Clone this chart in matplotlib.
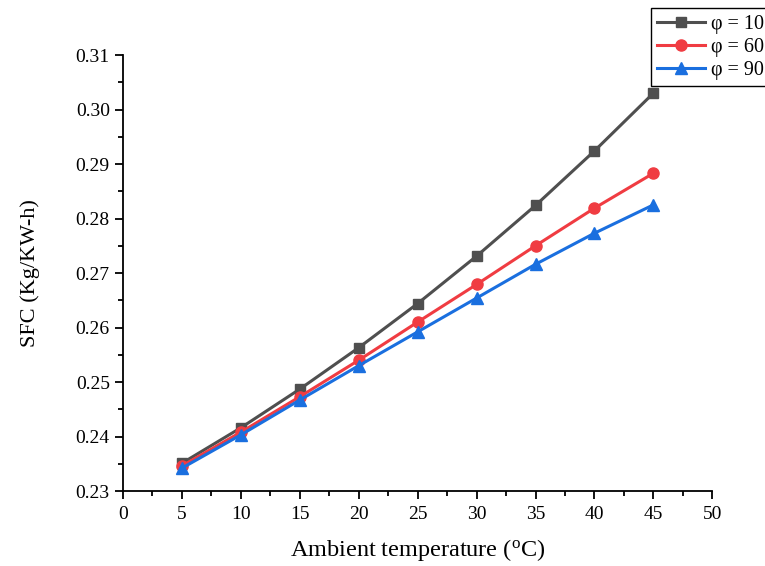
import matplotlib
matplotlib.use("Agg")
import matplotlib.pyplot as plt
from matplotlib.ticker import MultipleLocator

plt.rcParams['font.family'] = ['Liberation Serif', 'DejaVu Serif']
plt.rcParams['mathtext.fontset'] = 'custom'
plt.rcParams['mathtext.rm'] = 'Liberation Serif'

temperature = [5, 10, 15, 20, 25, 30, 35, 40, 45]
sfc_phi10 = [0.2351, 0.2416, 0.2487, 0.2563, 0.2644, 0.2731, 0.2824, 0.2924, 0.3030]
sfc_phi60 = [0.2346, 0.2408, 0.2473, 0.2540, 0.2610, 0.2679, 0.2750, 0.2819, 0.2883]
sfc_phi90 = [0.2342, 0.2403, 0.2467, 0.2530, 0.2592, 0.2654, 0.2716, 0.2773, 0.2825]
series_labels = ['φ = 10', 'φ = 60', 'φ = 90']

fig = plt.figure(figsize=(7.65, 5.66), dpi=100)
ax = fig.add_axes([0.1608, 0.1325, 0.7703, 0.7703])

ax.plot(temperature, sfc_phi10, color='#4f4f4f', lw=2.2, marker='s', ms=7, label=series_labels[0])
ax.plot(temperature, sfc_phi60, color='#f03c42', lw=2.2, marker='o', ms=8, label=series_labels[1])
ax.plot(temperature, sfc_phi90, color='#1a6fdf', lw=2.2, marker='^', ms=8.5, label=series_labels[2])

ax.set_xlim(0, 50)
ax.set_ylim(0.23, 0.31)
ax.xaxis.set_major_locator(MultipleLocator(5))
ax.xaxis.set_minor_locator(MultipleLocator(2.5))
ax.yaxis.set_major_locator(MultipleLocator(0.01))
ax.yaxis.set_minor_locator(MultipleLocator(0.005))
ax.yaxis.set_major_formatter(plt.FormatStrFormatter('%.2f'))

for side in ['top', 'right']:
    ax.spines[side].set_visible(False)
for side in ['left', 'bottom']:
    ax.spines[side].set_linewidth(1.3)

ax.tick_params(which='major', direction='out', length=6, width=1.3, labelsize=14)
ax.tick_params(axis='x', which='major', pad=5)
ax.tick_params(which='minor', direction='out', length=3.5, width=1.3)

ax.set_xlabel(r'Ambient temperature ($\mathregular{^o}$C)', fontsize=17.5, labelpad=10)
ax.set_ylabel('SFC (Kg/KW-h)', fontsize=16, labelpad=26)

leg = fig.legend(loc='upper left', bbox_to_anchor=(0.851, 0.985), fontsize=14.5,
                 frameon=True, fancybox=False, edgecolor='black', framealpha=1,
                 handlelength=2.4, handletextpad=0.3, borderpad=0.3, labelspacing=0.2,
                 borderaxespad=0)
leg.get_frame().set_linewidth(1.0)

fig.savefig('out.png', dpi=100)
